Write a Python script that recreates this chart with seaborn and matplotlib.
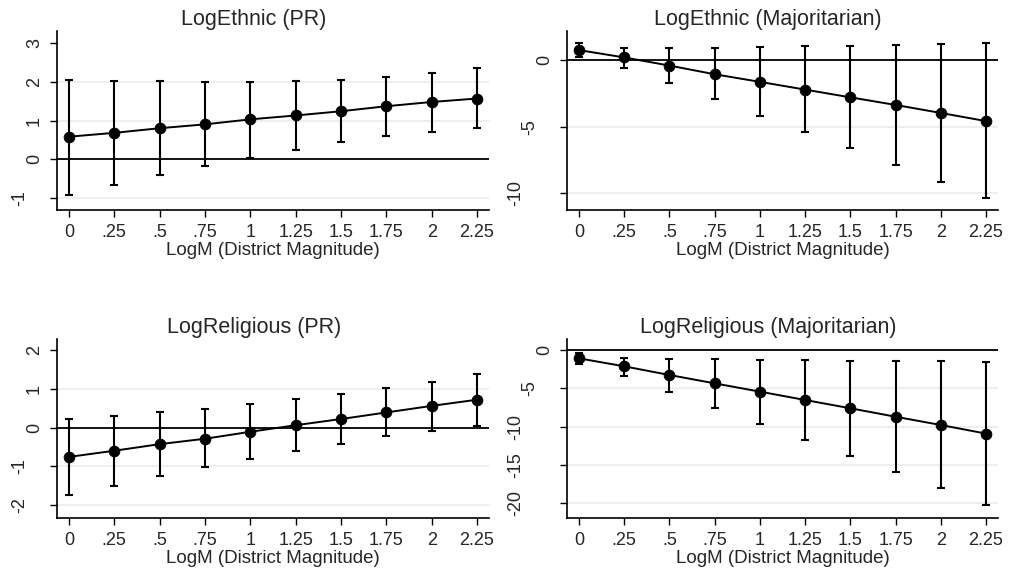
import numpy as np
import pandas as pd
import matplotlib
matplotlib.use("Agg")
import matplotlib.pyplot as plt
import seaborn as sns

# ===== datos =====
LOGM = [0, 0.25, 0.5, 0.75, 1, 1.25, 1.5, 1.75, 2, 2.25]
XTICK_LABELS = ["0", ".25", ".5", ".75", "1", "1.25", "1.5", "1.75", "2", "2.25"]

ETH_PR_EST = [0.58, 0.68, 0.80, 0.90, 1.03, 1.13, 1.24, 1.37, 1.48, 1.57]
ETH_PR_LO = [-0.93, -0.67, -0.42, -0.17, 0.04, 0.24, 0.43, 0.59, 0.71, 0.80]
ETH_PR_HI = [2.06, 2.03, 2.02, 2.01, 2.01, 2.03, 2.05, 2.12, 2.23, 2.37]

ETH_MAJ_EST = [0.73, 0.18, -0.43, -1.08, -1.65, -2.23, -2.81, -3.38, -3.98, -4.59]
ETH_MAJ_LO = [0.20, -0.63, -1.75, -2.96, -4.19, -5.44, -6.62, -7.87, -9.15, -10.35]
ETH_MAJ_HI = [1.25, 0.90, 0.85, 0.90, 0.95, 1.00, 1.05, 1.10, 1.18, 1.25]

REL_PR_EST = [-0.76, -0.60, -0.43, -0.29, -0.11, 0.06, 0.22, 0.39, 0.56, 0.72]
REL_PR_LO = [-1.75, -1.50, -1.26, -1.03, -0.82, -0.60, -0.42, -0.23, -0.10, 0.04]
REL_PR_HI = [0.23, 0.31, 0.41, 0.49, 0.60, 0.73, 0.86, 1.02, 1.19, 1.38]

REL_MAJ_EST = [-1.09, -2.13, -3.26, -4.35, -5.43, -6.52, -7.60, -8.70, -9.78, -10.90]
REL_MAJ_LO = [-1.83, -3.43, -5.43, -7.52, -9.60, -11.70, -13.80, -15.90, -18.00, -20.20]
REL_MAJ_HI = [-0.43, -1.00, -1.13, -1.22, -1.30, -1.35, -1.43, -1.48, -1.48, -1.52]

PANELS = [
    ("LogEthnic (PR)", ETH_PR_EST, ETH_PR_LO, ETH_PR_HI, [-1, 0, 1, 2, 3], ["-1", "0", "1", "2", "3"], (-1.32, 3.32)),
    ("LogEthnic (Majoritarian)", ETH_MAJ_EST, ETH_MAJ_LO, ETH_MAJ_HI, [-10, -5, 0], ["-10", "-5", "0"], (-11.25, 2.16)),
    ("LogReligious (PR)", REL_PR_EST, REL_PR_LO, REL_PR_HI, [-2, -1, 0, 1, 2], ["-2", "-1", "0", "1", "2"], (-2.34, 2.29)),
    ("LogReligious (Majoritarian)", REL_MAJ_EST, REL_MAJ_LO, REL_MAJ_HI, [-20, -15, -10, -5, 0], ["-20", "-15", "-10", "-5", "0"], (-21.9, 1.43)),
]
XLABEL = "LogM (District Magnitude)"

sns.set_theme(style="white")
plt.rcParams["font.family"] = ["Liberation Sans", "DejaVu Sans"]

fig = plt.figure(figsize=(10.09, 5.78), dpi=100)
W, H = 1009, 578
# posiciones de los ejes en píxeles (izq, arriba, der, abajo) y centro x del título
boxes = [(57, 31, 489, 210, 254), (567, 31, 998, 210, 768),
         (57, 339, 489, 518, 254), (567, 339, 998, 518, 768)]

for (title, est, lo, hi, yt, ytl, ylim), (l, t, r, b, tx) in zip(PANELS, boxes):
    ax = fig.add_axes([l / W, 1 - b / H, (r - l) / W, (b - t) / H])
    df = pd.DataFrame({"x": LOGM, "est": est, "lo": lo, "hi": hi})
    # líneas de grilla (estilo Stata: no en 0 ni en el tick superior)
    for v in yt[:-1]:
        if v != 0:
            ax.axhline(v, color="#e6eef0", lw=1.2, zorder=0)
    ax.axhline(0, color="black", lw=1.3, zorder=1)
    ax.errorbar(df["x"], df["est"], yerr=[df["est"] - df["lo"], df["hi"] - df["est"]],
                fmt="none", ecolor="black", elinewidth=1.5, capsize=3, capthick=1.5, zorder=2)
    sns.lineplot(data=df, x="x", y="est", color="black", lw=1.4, ax=ax, zorder=3)
    sns.scatterplot(data=df, x="x", y="est", color="black", s=60, edgecolor="black", ax=ax, zorder=4)
    ax.set_xlim(-0.066, 2.316)
    ax.set_ylim(*ylim)
    ax.set_xticks(LOGM)
    ax.set_xticklabels(XTICK_LABELS, fontsize=13)
    ax.set_yticks(yt)
    ax.set_yticklabels(ytl, fontsize=13, rotation=90, va="center")
    ax.tick_params(axis="both", direction="out", length=5, width=1, color="black", pad=5, left=True, bottom=True)
    # en el original las etiquetas con más caracteres quedan corridas a la izquierda
    for tick, lab in zip(ax.yaxis.get_major_ticks(), ytl):
        tick.set_pad(5 + 10.5 * (len(lab) - 1))
    for s in ["top", "right"]:
        ax.spines[s].set_visible(False)
    for s in ["left", "bottom"]:
        ax.spines[s].set_color("black")
        ax.spines[s].set_linewidth(1.2)
    ax.set_title(title, fontsize=15.5, pad=4.5, x=(tx - l) / (r - l))
    ax.set_xlabel(XLABEL, fontsize=13.5, labelpad=0.5)
    ax.set_ylabel("")

plt.savefig("out.png", dpi=100)
plt.close(fig)
